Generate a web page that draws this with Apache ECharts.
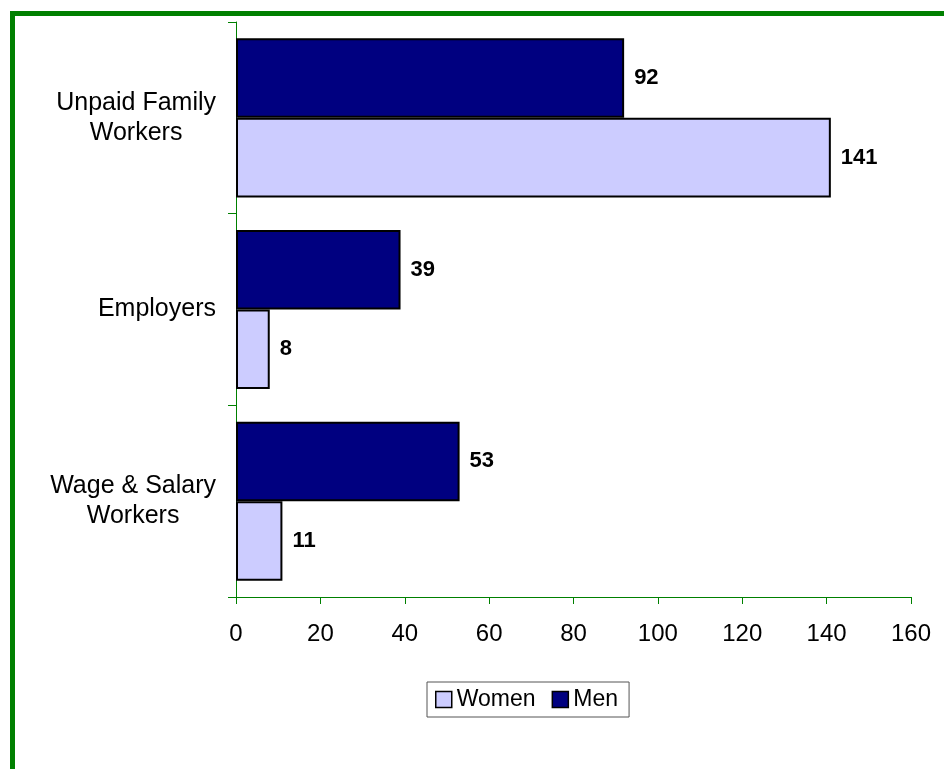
<!DOCTYPE html>
<html>
<head>
<meta charset="utf-8">
<script src="https://cdn.jsdelivr.net/npm/echarts@6/dist/echarts.min.js"></script>
<style>
html,body{margin:0;padding:0;background:#fff;}
#chart{width:944px;height:769px;}
</style>
</head>
<body>
<div id="chart"></div>
<script>
const categories = ['Wage & Salary\nWorkers', 'Employers', 'Unpaid Family\nWorkers'];
const women = [11, 8, 141];
const men = [53, 39, 92];
const seriesNames = ['Women', 'Men'];
const xMin = 0, xMax = 160, xInterval = 20;

const FONT = 'Liberation Sans, Arial, sans-serif';
const chart = echarts.init(document.getElementById('chart'), null, {renderer: 'canvas'});

const barLabel = {
  show: true, position: 'right', distance: 10,
  fontFamily: FONT, fontWeight: 'bold', fontSize: 22, color: '#000'
};

chart.setOption({
  animation: false,
  backgroundColor: '#fff',
  textStyle: {fontFamily: FONT},
  graphic: [{
    type: 'rect', left: 10, top: 11, silent: true,
    shape: {x: 0, y: 0, width: 2000, height: 2000},
    style: {fill: 'none', stroke: '#008000', lineWidth: 5}
  }],
  grid: {left: 236, right: 33, top: 22, bottom: 172, containLabel: false},
  legend: {
    data: seriesNames,
    left: 427, top: 682,
    orient: 'horizontal',
    itemWidth: 16, itemHeight: 16, itemGap: 16,
    padding: [6, 11, 6, 8],
    borderColor: '#555', borderWidth: 1,
    icon: 'rect',
    itemStyle: {borderColor: '#000', borderWidth: 1.5},
    textStyle: {fontFamily: FONT, fontSize: 23, color: '#000'}
  },
  xAxis: {
    type: 'value', min: xMin, max: xMax, interval: xInterval,
    axisLine: {show: true, lineStyle: {color: '#008000', width: 1}},
    axisTick: {show: true, length: 7, lineStyle: {color: '#008000'}},
    splitLine: {show: false},
    axisLabel: {fontFamily: FONT, fontSize: 24, color: '#000', margin: 25}
  },
  yAxis: {
    type: 'category', data: categories,
    axisLine: {show: true, lineStyle: {color: '#008000', width: 1}},
    axisTick: {show: true, length: 8, lineStyle: {color: '#008000'}},
    axisLabel: {
      margin: 20, align: 'right', color: '#000',
      formatter: v => v.split('\n').map(l => '{c|' + l + '}').join('\n'),
      rich: {c: {align: 'center', fontFamily: FONT, fontSize: 25, lineHeight: 30, color: '#000'}}
    }
  },
  series: [
    {
      name: 'Men', type: 'bar', data: men,
      barGap: '0%', barCategoryGap: '17%',
      itemStyle: {color: '#000080', borderColor: '#000', borderWidth: 2},
      label: barLabel
    },
    {
      name: 'Women', type: 'bar', data: women,
      barGap: '0%', barCategoryGap: '17%',
      itemStyle: {color: '#CCCCFF', borderColor: '#000', borderWidth: 2},
      label: barLabel
    }
  ]
});
</script>
</body>
</html>
